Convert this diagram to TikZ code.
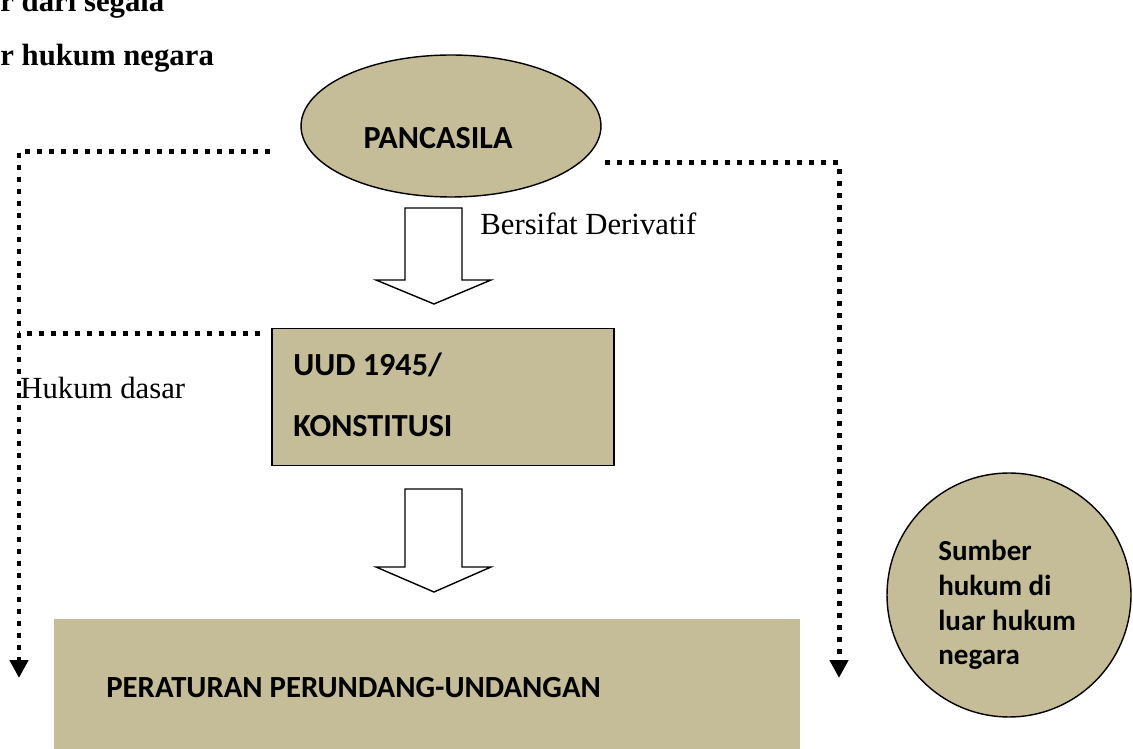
\documentclass[tikz,border=0pt]{standalone}
\usepackage{fontspec}
\setmainfont{Liberation Serif}
\newfontfamily\calibri{Carlito}
\usepackage{tikz}
\usetikzlibrary{arrows.meta,positioning,shapes.geometric}
\definecolor{tanfill}{HTML}{C4BD97}

\tikzset{
  tanbox/.style={fill=tanfill, draw=black, line width=0.8pt},
  boldlabel/.style={font=\calibri\bfseries\fontsize{16.5}{19.8}\selectfont, inner sep=0pt, align=left},
  biglabel/.style={font=\calibri\bfseries\fontsize{18.3}{35}\selectfont, inner sep=0pt, align=left},
  plainlabel/.style={font=\fontsize{17.5}{20}\selectfont, inner sep=0pt},
  toplabel/.style={font=\bfseries\fontsize{17.5}{20}\selectfont, inner sep=0pt},
  dotline/.style={line width=0.1cm, dash pattern=on 0.1cm off 0.14cm},
  dottip/.style={-{Triangle[width=0.36cm,length=0.36cm]}},
  blockarrow/.style={draw=black, line width=0.8pt, fill=white, line join=miter},
}

\begin{document}
\begin{tikzpicture}[x=0.02cm, y=-0.02cm]
        \useasboundingbox (0,0) rectangle (1133,749);

        % cut-off text at the top
        \node[toplabel, anchor=base west] (topone) at (0,12) {r dari segala};
        \node[toplabel, anchor=base west] (toptwo) at (0,66) {r hukum negara};

        % main shapes
        \node[ellipse, tanbox, minimum width=6cm, minimum height=2.84cm] (pancasila) at (451,126) {};
        \node[biglabel] (pancasilatext) at (438,138) {PANCASILA};
        \node[rectangle, tanbox, minimum width=6.84cm, minimum height=2.74cm] (uud) at (443,397) {};
        \node[biglabel, anchor=west] (uudtext) at (293,395) {UUD 1945/\\KONSTITUSI};
        \node[rectangle, fill=tanfill, minimum width=14.92cm, minimum height=2.82cm] (peraturan) at (427,689) {};
        \node[boldlabel, anchor=west, font=\calibri\bfseries\fontsize{17.5}{20}\selectfont] (peraturantext) at (106,688) {PERATURAN PERUNDANG-UNDANGAN};
        \node[circle, tanbox, minimum size=4.88cm] (sumber) at (1009,595) {};
        \node[boldlabel, anchor=west] (sumbertext) at (938,605) {Sumber\\hukum di\\luar hukum\\negara};

        % labels
        \node[plainlabel, anchor=west] (derivatif) at (480,224) {Bersifat Derivatif};
        \node[plainlabel, anchor=west] (hukumdasar) at (20,388) {Hukum dasar};

        % block arrows
        \draw[blockarrow] (405,208) -- (462,208) -- (462,280) -- (491,280) -- (434,304) -- (376,280) -- (405,280) -- cycle;
        \draw[blockarrow] (405,489) -- (462,489) -- (462,567) -- (491,567) -- (434,592) -- (376,567) -- (405,567) -- cycle;

        % dotted lines
        \coordinate (lstart) at (270,152);
        \coordinate (lcorner) at (19,152);
        \coordinate (lend) at (19,678);
        \coordinate (mstart) at (260,334);
        \coordinate (mend) at (19,334);
        \coordinate (rstart) at (605,163);
        \coordinate (rcorner) at (839,163);
        \coordinate (rend) at (839,678);
        \draw[dotline, dottip] (lstart) -- (lcorner) -- (lend);
        \draw[dotline] (mstart) -- (mend);
        \draw[dotline, dottip] (rstart) -- (rcorner) -- (rend);
    \end{tikzpicture}
\end{document}
